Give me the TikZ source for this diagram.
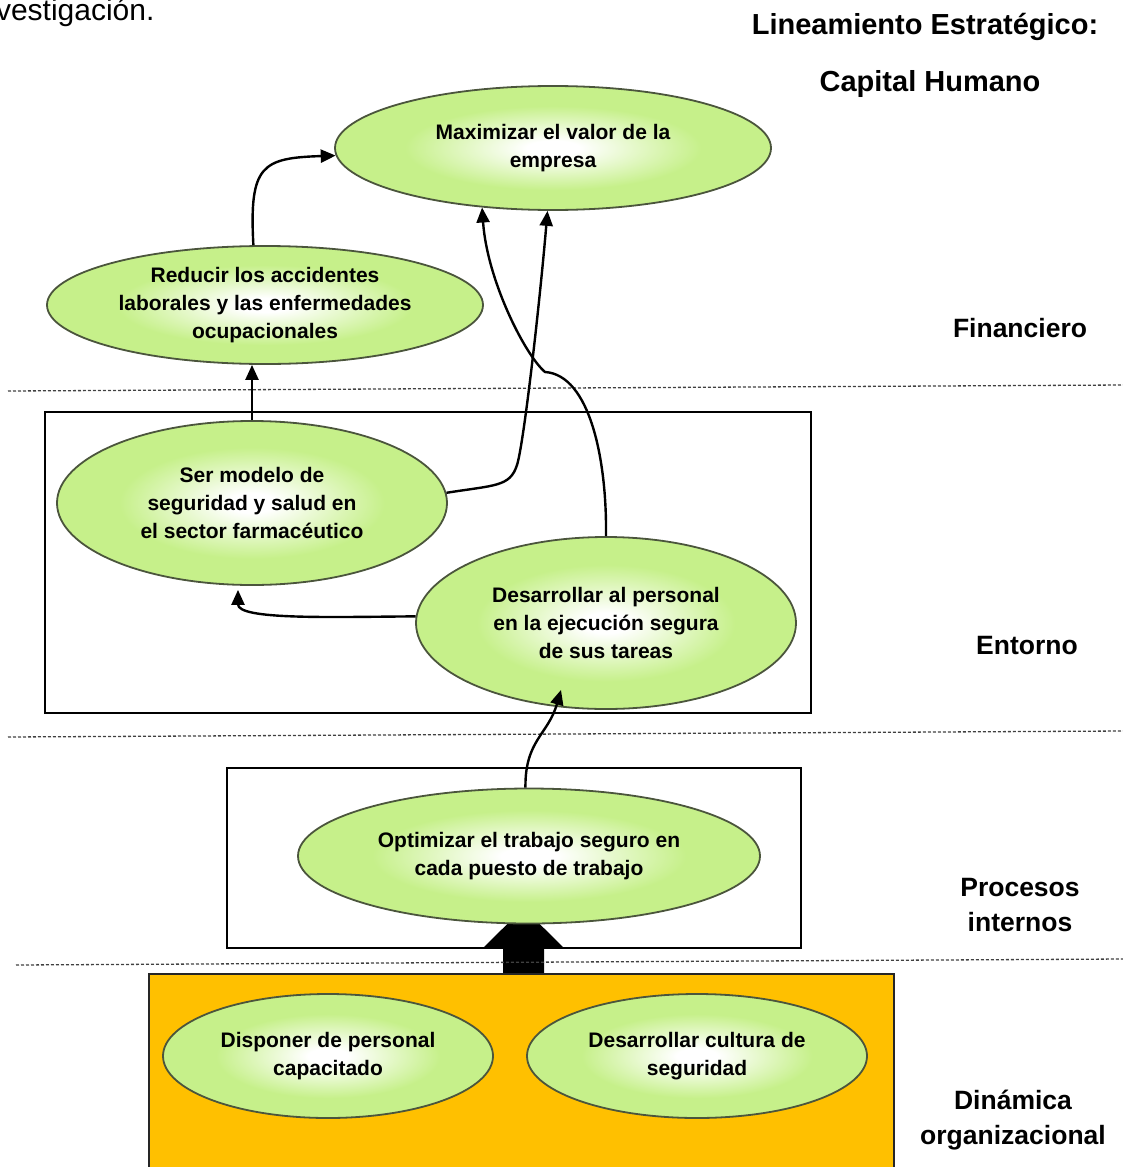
\documentclass[tikz,border=0pt]{standalone}
\usepackage{fontspec}
\setmainfont{Liberation Sans}
\usetikzlibrary{shapes.geometric,arrows.meta}
\definecolor{egg}{RGB}{198,240,138}
\definecolor{eggline}{RGB}{75,85,60}
\definecolor{amber}{RGB}{255,192,0}
\pgfdeclareradialshading{eggshade}{\pgfpoint{0bp}{0bp}}{color(0bp)=(white); color(3bp)=(white); color(17bp)=(egg); color(25bp)=(egg); color(50bp)=(egg)}
\pgfdeclarelayer{bg}
\pgfsetlayers{bg,main}
\begin{document}
\begin{tikzpicture}[x=1pt,y=-1pt,
  goal/.style={ellipse, draw=eggline, line width=1.8pt, shading=eggshade, inner sep=0pt, align=center, font=\fontsize{21}{28}\selectfont\bfseries},
  conn/.style={line width=2.4pt, -{Triangle[length=15pt,width=13pt]}},
  side/.style={font=\fontsize{26.5}{35}\selectfont\bfseries, align=center},
  head/.style={font=\fontsize{29}{35}\selectfont\bfseries},
  band/.style={line width=1.3pt, dash pattern=on 3pt off 2pt, draw=black!75},
  frame/.style={draw=black, line width=1.5pt, anchor=north west, inner sep=0pt}]
\useasboundingbox (0,0) rectangle (1123,1167);

% text
\node[anchor=base east, font=\fontsize{30}{36}\selectfont] (inv) at (158,20) {investigación.};
\node[head] (h1) at (925,27) {Lineamiento Estratégico:};
\node[head] (h2) at (930,84) {Capital Humano};
\node[side] (s1) at (1020,328) {Financiero};
\node[side] (s2) at (1027,646) {Entorno};
\node[side] (s3) at (1020,905) {Procesos\\internos};
\node[side] (s4) at (1013,1120) {Dinámica\\organizacional};

% bands
\draw[band] (8,391) -- (1123,385);
\draw[band] (8,737) -- (1123,731);
\draw[band] (16,965) -- (1123,959);

% boxes
\node[frame, draw=black!85, line width=2pt, fill=amber, minimum width=745, minimum height=260] (dyn) at (148,973) {};
\node[frame, minimum width=766, minimum height=301] (envbox) at (44,411) {};
\node[frame, minimum width=574, minimum height=180] (procbox) at (226,767) {};

% goals
\node[goal, minimum width=436, minimum height=124] (max) at (553,148) {Maximizar el valor de la\\empresa};
\node[goal, minimum width=436, minimum height=118] (red) at (265,305) {Reducir los accidentes\\laborales y las enfermedades\\ocupacionales};
\node[goal, minimum width=390, minimum height=164] (ser) at (252,503) {Ser modelo de\\seguridad y salud en\\el sector farmacéutico};
\node[goal, minimum width=380, minimum height=172] (des) at (606,623) {Desarrollar al personal\\en la ejecución segura\\de sus tareas};
\node[goal, minimum width=462, minimum height=135] (opt) at (529,856) {Optimizar el trabajo seguro en\\cada puesto de trabajo};
\node[goal, minimum width=330, minimum height=124] (disp) at (328,1056) {Disponer de personal\\capacitado};
\node[goal, minimum width=340, minimum height=124] (cult) at (697,1056) {Desarrollar cultura de\\seguridad};

% block arrow
\coordinate (ba) at (523.5,973);
\begin{pgfonlayer}{bg}
\fill[black] (ba) ++(-20.5,0) -- ++(0,-25) -- ++(-20,0) -- ++(40.5,-40) -- ++(40.5,40) -- ++(-20,0) -- ++(0,25) -- cycle;
\end{pgfonlayer}

% connectors
\draw[conn] (red.101) .. controls (249,165) and (262,158) .. (max.182);
\draw[conn] (ser.north) -- (ser.north |- red.south);
\draw[conn] (ser.3) .. controls (495,485) and (510,487) .. (517,465) .. controls (524,443) and (540,300) .. (max.265);
\draw[conn] (des.north) .. controls (607,460) and (590,375) .. (545,372) .. controls (525,355) and (487,280) .. (max.220);
\draw[conn] (des.178) .. controls (330,617) and (238,620) .. ([xshift=-14pt,yshift=-4pt]ser.south);
\draw[conn] (opt.93) .. controls (525,740) and (548,735) .. ([xshift=-45pt,yshift=20pt]des.south);
\end{tikzpicture}
\end{document}
